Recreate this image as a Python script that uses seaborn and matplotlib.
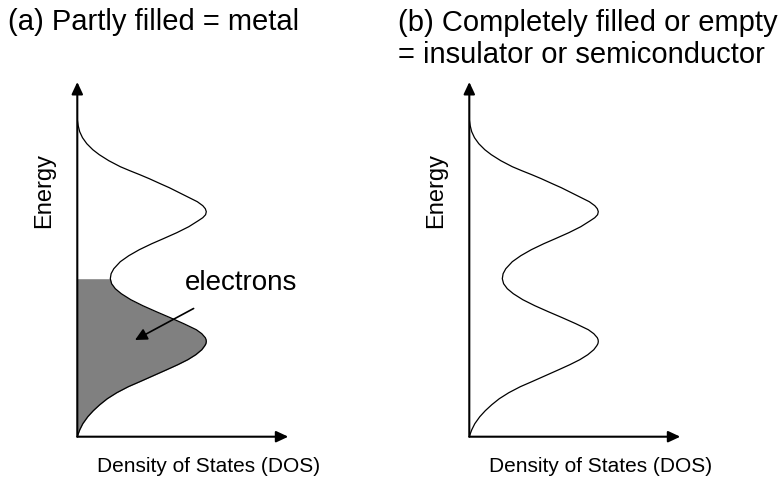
import numpy as np
import pandas as pd
import matplotlib
matplotlib.use("Agg")
import matplotlib.pyplot as plt
import seaborn as sns

# ==========================================
# 1. DATA
# ==========================================
# energy (vertical axis) and density of states (horizontal), arbitrary units
energy = [0, 3, 7, 13, 20, 26, 32, 38, 44, 50, 55, 61, 67, 72, 77, 82, 87, 91, 93, 95, 97,
          99, 103, 107, 113, 119, 125, 131, 137, 143, 148, 153, 158, 163, 168, 175,
          181, 187, 193, 198, 204, 210, 216, 219, 222, 225, 228, 231, 235, 240, 244, 249,
          253, 258, 262, 266, 270, 276, 282, 287, 293, 299, 305, 311, 317]
dos = [0, 1, 2.5, 5.5, 10.5, 16, 22.5, 30, 39.5, 51, 62.5, 76, 89.5, 100.5, 110.5, 118.5, 124.5,
       127.5, 128.6, 129, 128.8,
       128, 124.5, 119, 106.5, 93, 79, 65.5, 53.5, 44, 38, 34.3, 33, 33.8, 36.5, 43,
       51.5, 62, 74.5, 86, 99.5, 111.5, 121, 125.5, 128.3, 129, 128, 125.5, 120, 110, 102, 92,
       83, 72, 62.5, 52.5, 43, 31.5, 22, 15.5, 9.5, 5.2, 2.4, 0.9, 0]
fermi_level = 158  # metal: states filled up to the DOS minimum

titles = ["(a) Partly filled = metal",
          "(b) Completely filled or empty\n= insulator or semiconductor"]
xlabel = "Density of States (DOS)"
ylabel = "Energy"

df = pd.DataFrame({"Energy": energy, "DOS": dos})

# ==========================================
# 2. PLOT
# ==========================================
sns.set_theme(style="white")
plt.rcParams["font.family"] = ["Liberation Sans", "DejaVu Sans"]
plt.rcParams["text.color"] = "black"

fig = plt.figure(figsize=(7.78, 4.87), dpi=100)
W, H = 778.0, 487.0

# axes origins (pixels) and axis lengths up to the arrow tips
origins = [(77.3, 436.7), (469.3, 436.7)]
x_len, y_len = 211.0, 354.7

axes = []
for ox, oy in origins:
    ax = fig.add_axes([ox / W, (H - oy) / H, x_len / W, y_len / H])
    ax.set_xlim(0, x_len)
    ax.set_ylim(0, y_len)
    for s in ax.spines.values():
        s.set_visible(False)
    ax.set_xticks([])
    ax.set_yticks([])
    ax.patch.set_alpha(0)
    arrow_kw = dict(arrowstyle="-|>,head_length=0.6,head_width=0.28", lw=1.5, color="black",
                    mutation_scale=12, shrinkA=0, shrinkB=0)
    ax.annotate("", xy=(1, 0), xytext=(0, 0), xycoords="axes fraction", arrowprops=arrow_kw)
    ax.annotate("", xy=(0, 1), xytext=(0, 0), xycoords="axes fraction", arrowprops=arrow_kw)
    sns.lineplot(data=df, x="DOS", y="Energy", sort=False, estimator=None,
                 color="black", lw=0.9, ax=ax)
    ax.set_xlabel("")
    ax.set_ylabel("")
    axes.append(ax)

# filled states for the metal
ax = axes[0]
e_arr = np.array(energy, dtype=float)
ax.fill_betweenx(e_arr, 0, dos, where=e_arr <= fermi_level, interpolate=True,
                 color="#808080", lw=0, zorder=1)
ax.annotate("electrons", xy=(57.7, 96.7), xytext=(163.7, 153.7), fontsize=20,
            ha="center", va="center", color="black",
            arrowprops=dict(arrowstyle="-|>,head_length=0.6,head_width=0.3", lw=1.2,
                            color="black", mutation_scale=12, shrinkA=14, shrinkB=0))

# labels and titles
for (ox, oy), ax in zip(origins, axes):
    fig.text((ox + 131) / W, (H - 467) / H, xlabel, fontsize=15, ha="center", va="center")
    fig.text((ox - 33) / W, (H - 190) / H, ylabel, fontsize=17, rotation=90,
             ha="center", va="center")

fig.text(8 / W, (H - 22) / H, titles[0], fontsize=21, ha="left", va="center")
fig.text(398 / W, (H - 39) / H, titles[1], fontsize=21, ha="left", va="center",
         linespacing=1.2)

fig.savefig("out.png", dpi=100)
